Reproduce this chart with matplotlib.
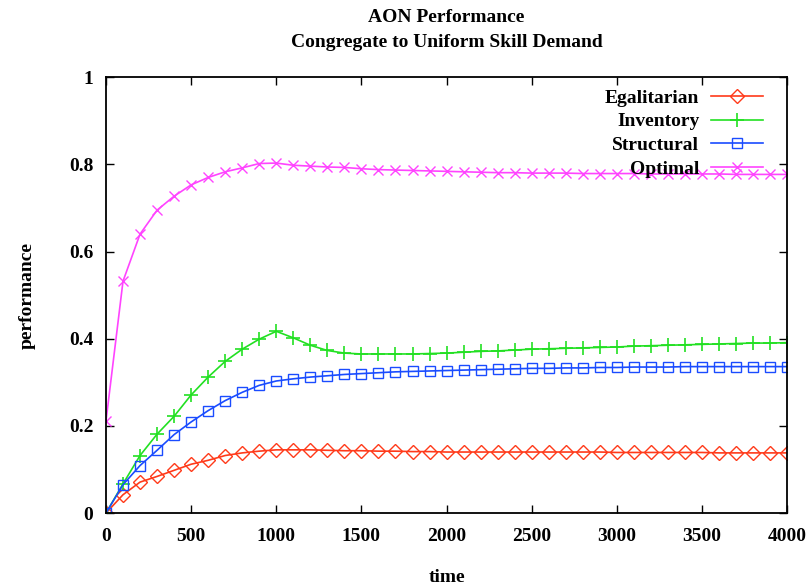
import matplotlib
matplotlib.use("Agg")
import matplotlib.pyplot as plt
import numpy as np

plt.rcParams['font.family'] = ['Liberation Serif', 'DejaVu Serif']
plt.rcParams['font.weight'] = 'bold'

time = list(range(0, 4001, 100))

egalitarian = [0.0, 0.042, 0.071, 0.084, 0.098, 0.112, 0.121, 0.132, 0.138, 0.142,
               0.145, 0.145, 0.145, 0.144, 0.143, 0.143, 0.142, 0.142, 0.141, 0.141,
               0.140, 0.140, 0.140, 0.140, 0.140, 0.140, 0.140, 0.140, 0.140, 0.140,
               0.139, 0.139, 0.139, 0.139, 0.139, 0.139, 0.138, 0.138, 0.138, 0.138,
               0.138]
inventory = [0.0, 0.067, 0.132, 0.181, 0.222, 0.271, 0.312, 0.348, 0.376, 0.399,
             0.417, 0.402, 0.385, 0.373, 0.367, 0.365, 0.365, 0.365, 0.365, 0.366,
             0.367, 0.369, 0.371, 0.372, 0.374, 0.376, 0.377, 0.378, 0.379, 0.380,
             0.381, 0.383, 0.384, 0.385, 0.386, 0.387, 0.388, 0.389, 0.390, 0.390,
             0.391]
structural = [0.0, 0.065, 0.109, 0.144, 0.180, 0.209, 0.235, 0.258, 0.277, 0.293,
              0.303, 0.308, 0.312, 0.315, 0.318, 0.320, 0.322, 0.324, 0.325, 0.326,
              0.327, 0.328, 0.329, 0.330, 0.331, 0.332, 0.332, 0.333, 0.333, 0.334,
              0.334, 0.335, 0.335, 0.335, 0.336, 0.336, 0.336, 0.336, 0.336, 0.336,
              0.336]
optimal = [0.211, 0.532, 0.640, 0.695, 0.727, 0.753, 0.770, 0.783, 0.792, 0.802,
           0.803, 0.798, 0.796, 0.794, 0.793, 0.790, 0.788, 0.787, 0.786, 0.785,
           0.784, 0.783, 0.782, 0.781, 0.781, 0.780, 0.780, 0.780, 0.779, 0.779,
           0.779, 0.779, 0.778, 0.778, 0.778, 0.778, 0.778, 0.777, 0.777, 0.777,
           0.777]

labels = ['Egalitarian', 'Inventory', 'Structural', 'Optimal']
colors = ['#ff3a1a', '#22e022', '#1a4cff', '#ff44ff']

fig = plt.figure(figsize=(8.09, 5.85), dpi=100)
ax = fig.add_axes([0.131, 0.123, 0.842, 0.745])

ax.plot(time, egalitarian, color=colors[0], lw=1.2, marker='D', ms=7,
        mfc='none', mec=colors[0], mew=1.0, label=labels[0])
ax.plot(time, inventory, color=colors[1], lw=1.2, marker='+', ms=10,
        mew=1.2, label=labels[1])
ax.plot(time, structural, color=colors[2], lw=1.2, marker='s', ms=6.5,
        mfc='none', mec=colors[2], mew=1.0, label=labels[2])
ax.plot(time, optimal, color=colors[3], lw=1.2, marker='x', ms=7,
        mew=1.0, label=labels[3])

ax.set_xlim(0, 4000)
ax.set_ylim(0, 1)
ax.set_xticks(range(0, 4001, 500))
ax.set_yticks([0, 0.2, 0.4, 0.6, 0.8, 1.0])
ax.set_yticklabels(['0', '0.2', '0.4', '0.6', '0.8', '1'])
ax.tick_params(direction='in', top=True, right=True, length=6, width=1,
               labelsize=14)
ax.tick_params(axis='x', pad=11)
ax.tick_params(axis='y', pad=9)
for lab in ax.get_xticklabels() + ax.get_yticklabels():
    lab.set_fontweight('bold')
for sp in ax.spines.values():
    sp.set_linewidth(1.3)

ax.set_xlabel('time', fontsize=14, fontweight='bold', labelpad=17)
ax.set_ylabel('performance', fontsize=14, fontweight='bold', labelpad=24)
fig.text(0.552, 0.970, 'AON Performance', ha='center', va='center',
         fontsize=14, fontweight='bold')
fig.text(0.552, 0.927, 'Congregate to Uniform Skill Demand', ha='center',
         va='center', fontsize=14, fontweight='bold')

leg = ax.legend(loc='upper right', frameon=False, markerfirst=False,
                fontsize=14, handlelength=2.7, borderaxespad=0.0,
                borderpad=0.0, labelspacing=0.32, handletextpad=0.6,
                bbox_to_anchor=(0.965, 0.973))
for t in leg.get_texts():
    t.set_fontweight('bold')

fig.savefig('out.png', dpi=100)
